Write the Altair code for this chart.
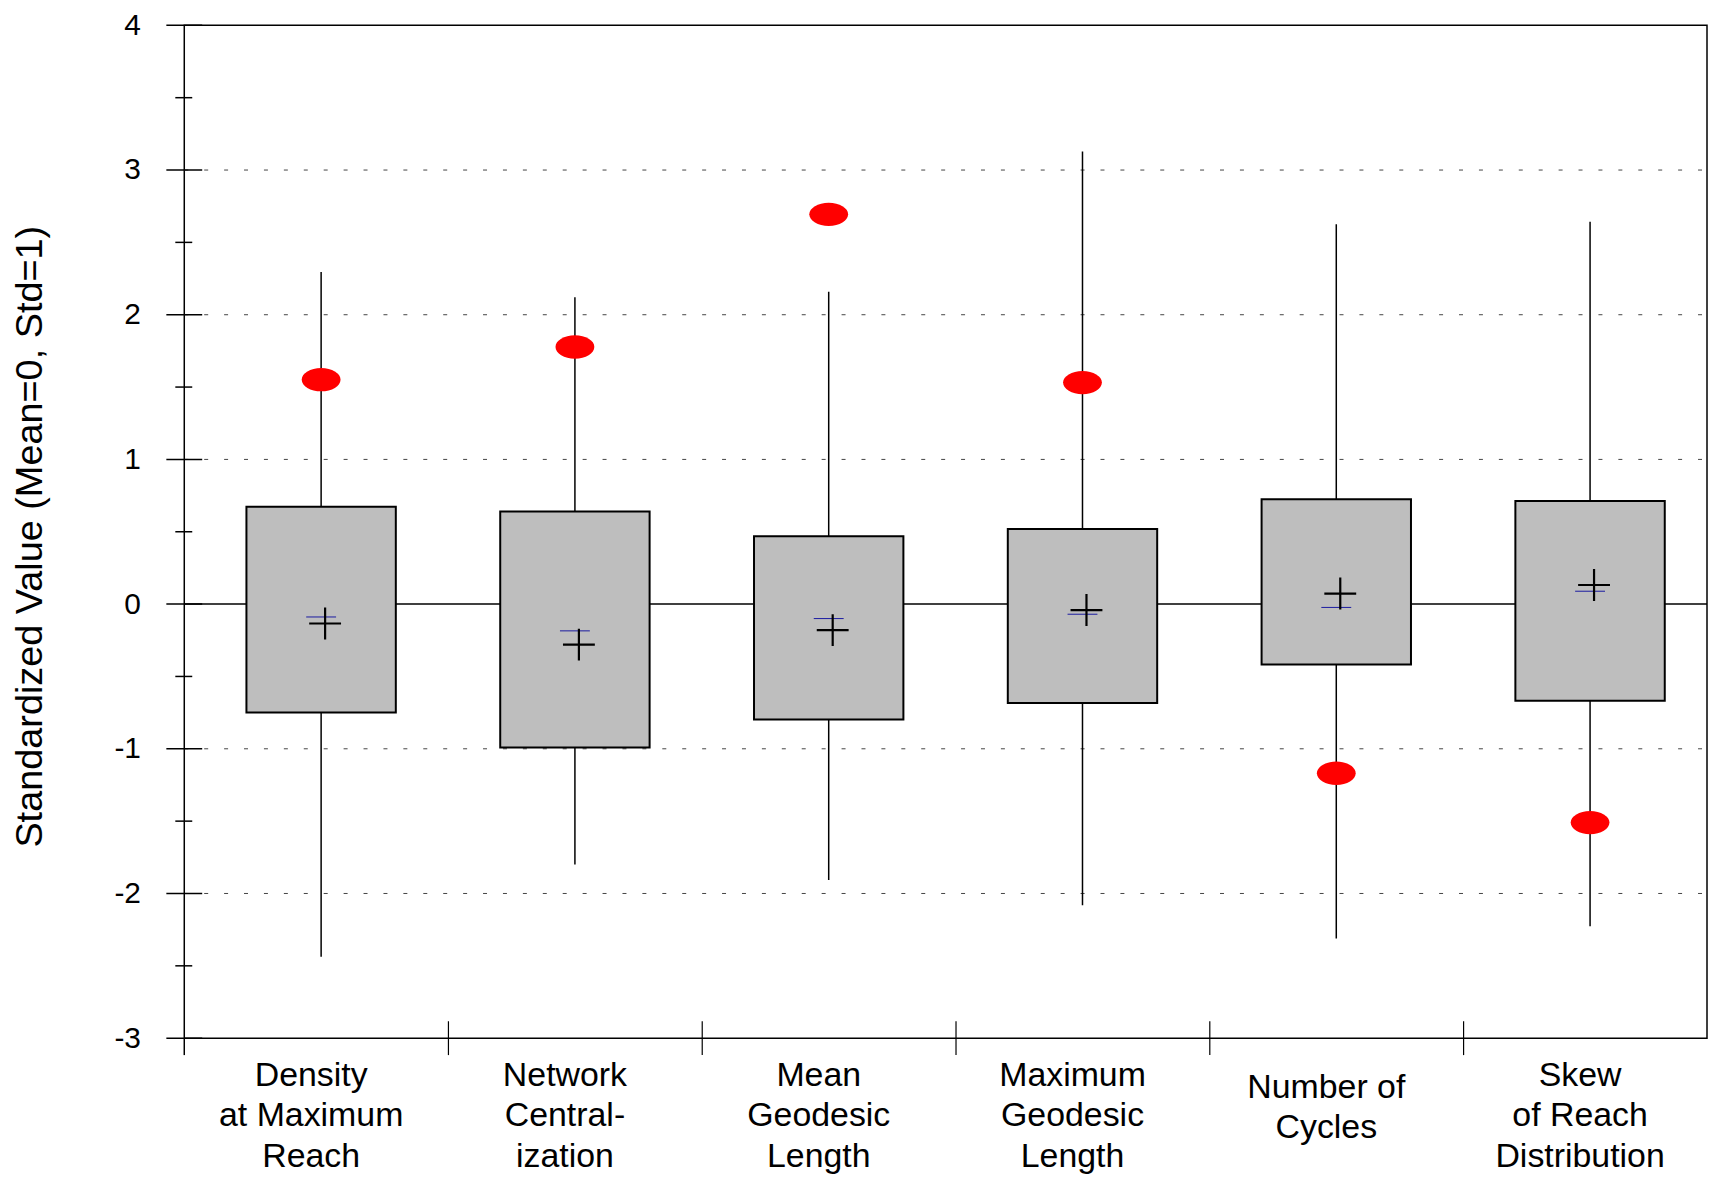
import altair as alt
import pandas as pd

# ---------------- data ----------------
categories = [
    "Density at Maximum Reach",
    "Network Centralization",
    "Mean Geodesic Length",
    "Maximum Geodesic Length",
    "Number of Cycles",
    "Skew of Reach Distribution",
]
label_lines = [
    "Density|at Maximum|Reach",
    "Network|Central-|ization",
    "Mean|Geodesic|Length",
    "Maximum|Geodesic|Length",
    "Number of|Cycles",
    "Skew|of Reach|Distribution",
]
box_low = [-0.750, -0.991, -0.797, -0.683, -0.417, -0.668]
box_high = [0.672, 0.640, 0.469, 0.519, 0.724, 0.713]
whisker_low = [-2.438, -1.800, -1.907, -2.082, -2.312, -2.226]
whisker_high = [2.296, 2.121, 2.159, 3.128, 2.626, 2.643]
median = [-0.089, -0.185, -0.100, -0.070, -0.023, 0.089]
mean = [-0.134, -0.280, -0.180, -0.041, 0.073, 0.132]
observed = [1.551, 1.777, 2.694, 1.531, -1.169, -1.510]

y_major_ticks = [-3, -2, -1, 0, 1, 2, 3, 4]
y_minor_ticks = [-2.5, -1.5, -0.5, 0.5, 1.5, 2.5, 3.5]
grid_values = [-2, -1, 1, 2, 3]
zero_value = [0]
bottom_value = [-3]

# ---------------- layout ----------------
W, H = 1529, 1017
FONT = "Liberation Sans"

df = pd.DataFrame({
    "cat": categories,
    "label": label_lines,
    "lo": box_low,
    "hi": box_high,
    "wlo": whisker_low,
    "whi": whisker_high,
    "median": median,
    "mean": mean,
    "obs": observed,
})
sep_df = df.iloc[1:]

yscale = alt.Scale(domain=[-3, 4], nice=False, zero=False)
xscale = alt.Scale(paddingInner=0, paddingOuter=0)
yaxis = alt.Axis(
    values=y_major_ticks,
    domain=False,
    ticks=False,
    tickSize=0,
    grid=False,
    labelPadding=44,
    labelFontSize=30,
    labelFont=FONT,
    labelColor="black",
    labelExpr="datum.value < 0 ? '-' + abs(datum.value) : '' + datum.value",
    title="Standardized Value (Mean=0, Std=1)",
    titleFont=FONT,
    titleFontSize=38,
    titleFontWeight="normal",
    titleColor="black",
    titleAngle=270,
    titleAlign="center",
    titleBaseline="middle",
    titleAnchor="middle",
    titleX=-154,
    titleY=513,
)


def Y(field):
    return alt.Y(field, type="quantitative", scale=yscale, axis=yaxis)


def X():
    return alt.X("cat:N", scale=xscale, axis=None, sort=categories)


box_off = 10

grid = alt.Chart(pd.DataFrame({"v": grid_values})).mark_rule(
    color="#444444", strokeWidth=1, strokeDash=[4, 16]
).encode(y=Y("v"), x=alt.value(0), x2=alt.value(W))

zero = alt.Chart(pd.DataFrame({"v": zero_value})).mark_rule(
    color="black", strokeWidth=1.5
).encode(y=Y("v"), x=alt.value(0), x2=alt.value(W))

whiskers = alt.Chart(df).mark_rule(color="black", strokeWidth=1.5, xOffset=box_off).encode(
    x=X(), y=Y("wlo"), y2=alt.Y2("whi")
)

boxes = alt.Chart(df).mark_bar(
    size=150, fill="#BEBEBE", stroke="black", strokeWidth=2, xOffset=box_off
).encode(x=X(), y=Y("lo"), y2=alt.Y2("hi"))

median_marks = alt.Chart(df).mark_point(
    shape="M-1,0L1,0", size=900, filled=False, color="#1a1aa0", strokeWidth=1, opacity=1, xOffset=box_off
).encode(x=X(), y=Y("median"))

mean_marks = alt.Chart(df).mark_point(
    shape="M-1,0L1,0M0,-1L0,1", size=1024, filled=False, color="black", strokeWidth=2.2, opacity=1,
    xOffset=box_off + 4
).encode(x=X(), y=Y("mean"))

obs_marks = alt.Chart(df).mark_point(
    shape="M-1,0A1,0.6,0,1,1,1,0A1,0.6,0,1,1,-1,0Z", size=1521, filled=True, color="#FF0000",
    opacity=1, strokeWidth=0, xOffset=box_off
).encode(x=X(), y=Y("obs"))

major = alt.Chart(pd.DataFrame({"v": y_major_ticks})).mark_rule(
    color="black", strokeWidth=1.5
).encode(y=Y("v"), x=alt.value(-18), x2=alt.value(18))

minor = alt.Chart(pd.DataFrame({"v": y_minor_ticks})).mark_rule(
    color="black", strokeWidth=1.5
).encode(y=Y("v"), x=alt.value(-9), x2=alt.value(8))

left_ext = alt.Chart(pd.DataFrame({"v": bottom_value})).mark_rule(
    color="black", strokeWidth=1.5
).encode(y=Y("v"), y2=alt.value(H + 17), x=alt.value(0))

separators = alt.Chart(sep_df).mark_rule(color="black", strokeWidth=1.2, xOffset=-117).encode(
    x=X(), y=alt.value(H - 17), y2=alt.value(H + 17)
)

text_style = dict(font=FONT, fontSize=34, lineBreak="|", lineHeight=40.5, baseline="middle",
                  align="center", color="black")

labels3 = alt.Chart(df).transform_filter(
    "length(split(datum.label, '|')) == 3"
).mark_text(**text_style).encode(x=X(), y=alt.value(H + 38), text="label:N")

labels2 = alt.Chart(df).transform_filter(
    "length(split(datum.label, '|')) == 2"
).mark_text(**text_style).encode(x=X(), y=alt.value(H + 50), text="label:N")

chart = alt.layer(
    grid, zero, whiskers, boxes, median_marks, mean_marks, obs_marks,
    major, minor, left_ext, separators, labels3, labels2
).properties(
    width=W,
    height=H,
    padding={"left": 177, "top": 15, "right": 1, "bottom": 140},
    autosize=alt.AutoSizeParams(type="none"),
).configure(font=FONT).configure_view(stroke="black", strokeWidth=1.5)

chart.save("out.html", embed_options={"renderer": "svg", "actions": False})
